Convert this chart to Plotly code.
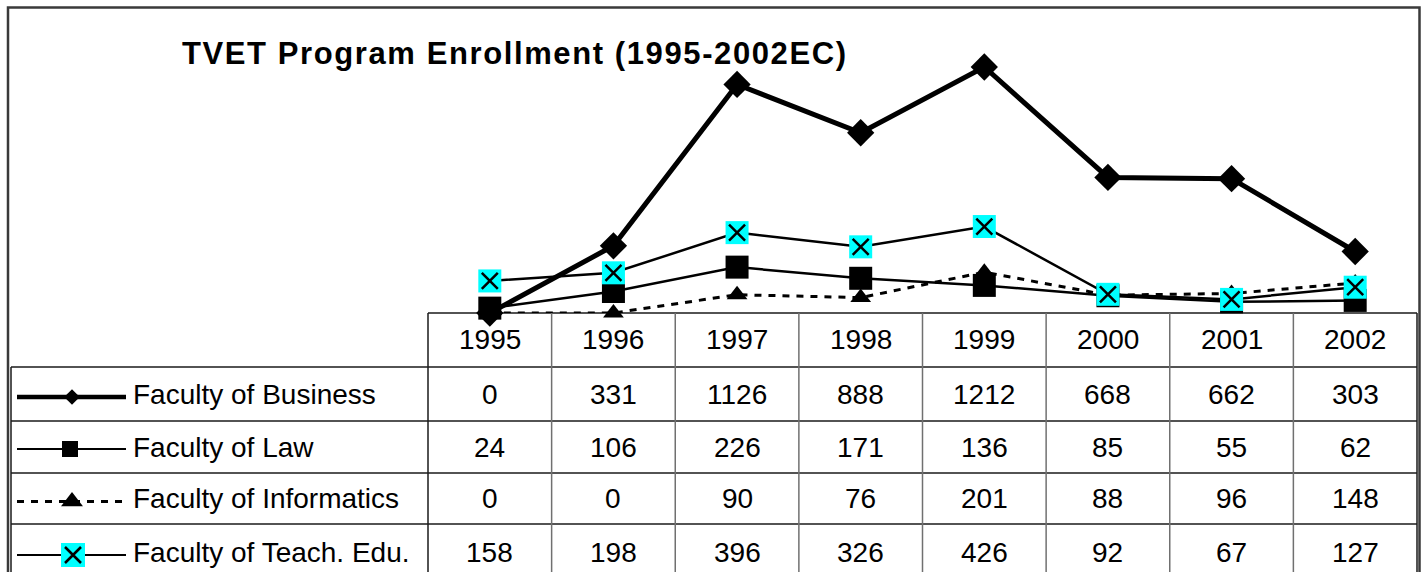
import plotly.graph_objects as go

# ---------------- data ----------------
years = ["1995", "1996", "1997", "1998", "1999", "2000", "2001", "2002"]
series_names = ["Faculty of Business", "Faculty of Law", "Faculty of Informatics", "Faculty of Teach. Edu."]
business = [0, 331, 1126, 888, 1212, 668, 662, 303]
law = [24, 106, 226, 171, 136, 85, 55, 62]
informatics = [0, 0, 90, 76, 201, 88, 96, 148]
teach = [158, 198, 396, 326, 426, 92, 67, 127]
title_text = "TVET Program Enrollment (1995-2002EC)"

# ---------------- layout constants (pixels) ----------------
W, H = 1428, 572
TX0, TX1 = 428, 1417          # value columns of the data table
LX0 = 11                      # table left edge
Y_ZERO = 313                  # pixel of value 0 / table top
Y_TOP = 7
PX_PER_UNIT = 246 / 1212.0
ROW_EDGES = [313, 367, 421, 473, 524, 580]
FONT = "Liberation Sans, Arial, sans-serif"
n = len(years)
xi = list(range(n))


def px(x):
    return x / W


def py(y):
    return 1 - y / H


fig = go.Figure()

# ---------------- chart lines (drawn on main axes) ----------------
fig.add_trace(go.Scatter(
    x=xi, y=informatics, mode="lines+markers", name=series_names[2],
    line=dict(color="black", width=3, dash="7px,7px"),
    marker=dict(symbol="triangle-up", size=18, color="black"),
    cliponaxis=False, showlegend=False))
fig.add_trace(go.Scatter(
    x=xi, y=business, mode="lines+markers", name=series_names[0],
    line=dict(color="black", width=5),
    marker=dict(symbol="diamond", size=21, color="black"),
    cliponaxis=False, showlegend=False))
fig.add_trace(go.Scatter(
    x=xi, y=law, mode="lines+markers", name=series_names[1],
    line=dict(color="black", width=2.5),
    marker=dict(symbol="square", size=23, color="black"),
    cliponaxis=False, showlegend=False))
fig.add_trace(go.Scatter(
    x=xi, y=teach, mode="lines+markers", name=series_names[3],
    line=dict(color="black", width=2.5),
    marker=dict(symbol="square", size=23, color="#00FFFF"),
    cliponaxis=False, showlegend=False))
fig.add_trace(go.Scatter(
    x=xi, y=teach, mode="markers", name=series_names[3],
    marker=dict(symbol="x-thin", size=16, color="black",
                line=dict(color="black", width=2.5)),
    cliponaxis=False, showlegend=False, hoverinfo="skip"))

# ---------------- legend keys in the table (pixel overlay axes) ----------------
row_centers = [(ROW_EDGES[k] + ROW_EDGES[k + 1]) / 2 for k in range(len(ROW_EDGES) - 1)]
key_rows = row_centers[1:5]
key_y = [key_rows[0] + 3, key_rows[1] + 2, key_rows[2] + 3, key_rows[3] + 3]
key_specs = [
    dict(line=dict(color="black", width=4.5), marker=dict(symbol="diamond", size=12, color="black"), mx=72),
    dict(line=dict(color="black", width=2), marker=dict(symbol="square", size=16, color="black"), mx=70),
    dict(line=dict(color="black", width=3, dash="7px,7px"), marker=dict(symbol="triangle-up", size=19, color="black"), mx=72),
    dict(line=dict(color="black", width=2), marker=dict(symbol="square", size=24, color="#00FFFF"), mx=73),
]
for k, spec in enumerate(key_specs):
    yk = key_y[k]
    fig.add_trace(go.Scatter(x=[17, 126], y=[yk, yk], mode="lines", line=spec["line"],
                             xaxis="x2", yaxis="y2", showlegend=False, hoverinfo="skip"))
    fig.add_trace(go.Scatter(x=[spec["mx"]], y=[yk], mode="markers", marker=spec["marker"],
                             xaxis="x2", yaxis="y2", showlegend=False, hoverinfo="skip",
                             cliponaxis=False))
fig.add_trace(go.Scatter(x=[73], y=[key_y[3]], mode="markers",
                         marker=dict(symbol="x-thin", size=16, color="black",
                                     line=dict(color="black", width=2.5)),
                         xaxis="x2", yaxis="y2", showlegend=False, hoverinfo="skip",
                         cliponaxis=False))

# ---------------- table grid (shapes in paper coords) ----------------
shapes = []
grid = dict(color="#1a1a1a", width=1.5)
vgrid = dict(color="#707070", width=1.5)


def hline(x0, x1, y, line):
    shapes.append(dict(type="line", xref="paper", yref="paper", x0=px(x0), x1=px(x1),
                       y0=py(y), y1=py(y), line=line, layer="below"))


def vline(x, y0, y1, line):
    shapes.append(dict(type="line", xref="paper", yref="paper", x0=px(x), x1=px(x),
                       y0=py(y0), y1=py(y1), line=line, layer="below"))


# outer chart border
shapes.append(dict(type="rect", xref="paper", yref="paper", x0=px(8), x1=px(1419.5),
                   y0=py(7.5), y1=py(590), line=dict(color="#3a3a3a", width=2.5),
                   fillcolor="rgba(0,0,0,0)", layer="below"))
hline(TX0, TX1, ROW_EDGES[0], grid)
for ye in ROW_EDGES[1:5]:
    hline(LX0, TX1, ye, grid)
vline(LX0, ROW_EDGES[1], 590, grid)
vline(TX0, ROW_EDGES[0], 590, grid)
colw = (TX1 - TX0) / n
for k in range(1, n):
    vline(TX0 + k * colw, ROW_EDGES[0], 590, vgrid)
vline(TX1, ROW_EDGES[0], 590, grid)

# ---------------- text ----------------
annotations = []
cell_font = dict(family=FONT, size=28, color="black")
annotations.append(dict(
    text='<span style="letter-spacing:1.6px">' + title_text + '</span>',
    xref="paper", yref="paper", x=px(515), y=py(53), xanchor="center", yanchor="middle",
    showarrow=False, font=dict(family=FONT, size=31, color="black", weight="bold")))
for i, yr in enumerate(years):
    annotations.append(dict(text=yr, xref="x", yref="paper", x=i, y=py(row_centers[0] - 1),
                            xanchor="center", yanchor="middle", showarrow=False, font=cell_font))
all_series = [business, law, informatics, teach]
for r, (name, vals) in enumerate(zip(series_names, all_series)):
    yc = py(row_centers[r + 1])
    annotations.append(dict(text=name, xref="paper", yref="paper", x=px(131), y=yc,
                            xanchor="left", yanchor="middle", showarrow=False, font=cell_font))
    for i, v in enumerate(vals):
        annotations.append(dict(text=str(v), xref="x", yref="paper", x=i, y=yc,
                                xanchor="center", yanchor="middle", showarrow=False,
                                font=cell_font))

fig.update_layout(
    width=W, height=H,
    margin=dict(l=0, r=0, t=0, b=0, pad=0),
    paper_bgcolor="white", plot_bgcolor="rgba(0,0,0,0)",
    showlegend=False,
    xaxis=dict(domain=[px(TX0), px(TX1)], range=[-0.5, n - 0.5], visible=False, fixedrange=True),
    yaxis=dict(domain=[py(Y_ZERO), py(Y_TOP)], range=[0, (Y_ZERO - Y_TOP) / PX_PER_UNIT],
               visible=False, fixedrange=True),
    xaxis2=dict(domain=[0, 1], range=[0, W], visible=False, anchor="y2", fixedrange=True),
    yaxis2=dict(domain=[0, 1], range=[H, 0], visible=False, anchor="x2", fixedrange=True),
    shapes=shapes, annotations=annotations,
)

fig.write_html("out.html", config={"displayModeBar": False, "staticPlot": True},
               post_script="document.body.style.margin='0';document.body.style.overflow='hidden';")
